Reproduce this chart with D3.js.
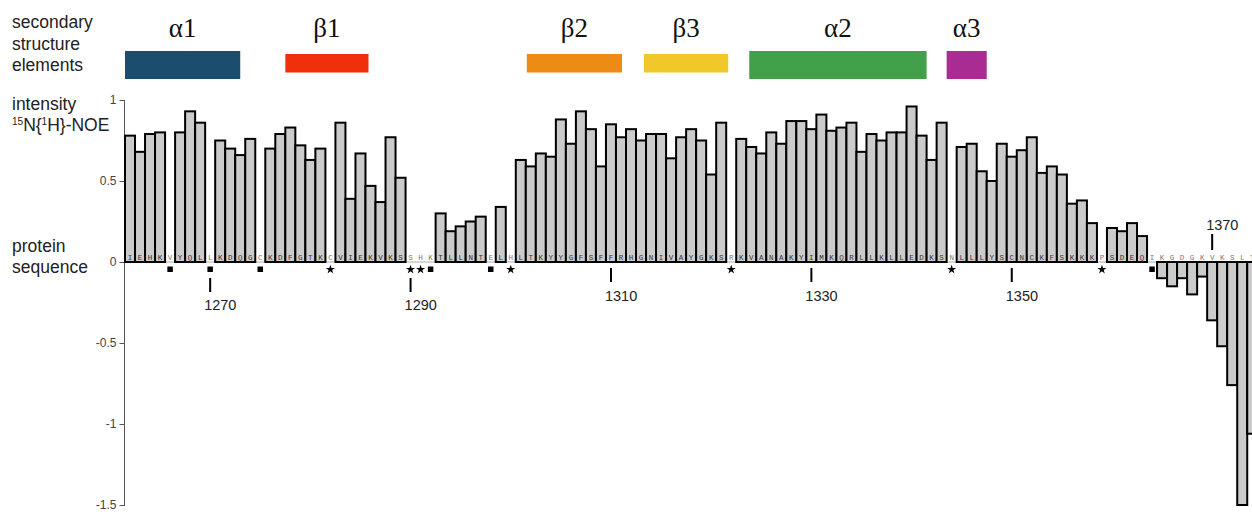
<!DOCTYPE html>
<html>
<head>
<meta charset="utf-8">
<script src="https://cdn.jsdelivr.net/npm/d3@7"></script>
<style>
  html, body { margin: 0; padding: 0; background: #fff; }
  svg { display: block; }
  .lbl { font-family: "Liberation Sans", Arial, sans-serif; font-size: 17.5px; fill: #222; }
</style>
</head>
<body>
<svg id="chart" width="1252" height="512"></svg>
<script>
// ---- data ----
const firstResidue = 1262;
const sequence = "IEHKVYQLLKDQGCKDFGTKCVIEKVKSSHKTLLNTELHLTKYYGFSFFRHGNIVAYGKSRKVANAKYIMKQRLLKLLEDKSNLLLYSCNCKFSKKKPSDEQIKGDGKVKSLT".split("");
// heteronuclear NOE per residue (null = not determined)
const noe = [
  0.78, 0.68, 0.79, 0.80, null, 0.80, 0.93, 0.86, null, 0.75,
  0.70, 0.66, 0.76, null, 0.70, 0.79, 0.83, 0.72, 0.63, 0.70,
  null, 0.86, 0.39, 0.67, 0.47, 0.37, 0.77, 0.52, null, null,
  null, 0.30, 0.19, 0.22, 0.25, 0.28, null, 0.34, null, 0.63,
  0.59, 0.67, 0.65, 0.88, 0.73, 0.93, 0.82, 0.59, 0.85, 0.77,
  0.82, 0.75, 0.79, 0.79, 0.64, 0.77, 0.82, 0.75, 0.54, 0.86,
  null, 0.76, 0.71, 0.67, 0.80, 0.73, 0.87, 0.87, 0.82, 0.91,
  0.81, 0.83, 0.86, 0.68, 0.79, 0.75, 0.80, 0.80, 0.96, 0.78,
  0.63, 0.86, null, 0.71, 0.73, 0.56, 0.50, 0.73, 0.65, 0.69,
  0.77, 0.55, 0.59, 0.54, 0.36, 0.38, 0.24, null, 0.21, 0.19,
  0.24, 0.16, null, -0.10, -0.15, -0.10, -0.20, -0.09, -0.36, -0.52,
  -0.76, -1.50, -1.06
];
const squareResidues = [1266, 1270, 1275, 1292, 1298, 1364];
const starResidues = [1282, 1290, 1291, 1300, 1322, 1344, 1359];
const numberedResidues = [1270, 1290, 1310, 1330, 1350, 1370];
const yTicks = [1, 0.5, 0, -0.5, -1, -1.5];

// secondary structure elements (residue ranges)
const elementNames = ["α1", "β1", "β2", "β3", "α2", "α3"];
const elementKinds = ["helix", "strand", "strand", "strand", "helix", "helix"];
const elementRanges = [[1262, 1273.5], [1278, 1286.3], [1302.1, 1311.6], [1313.8, 1322.2], [1324.3, 1342], [1344, 1348]];
const elementColors = ["#1b4d6f", "#f0300a", "#ee8b15", "#f1c829", "#43a04a", "#a92b94"];

// ---- layout ----
const svg = d3.select("#chart");
const residues = sequence.map((_, i) => firstResidue + i);
const rows = residues.map((r, i) => ({ res: r, aa: sequence[i], v: noe[i] }));
const slot = 10.02;
const x0 = 125, x1 = x0 + residues.length * slot;

const x = d3.scaleBand().domain(residues).range([x0, x1]).padding(0);
const xr = d3.scaleLinear().domain([firstResidue, firstResidue + residues.length]).range([x0, x1]);
const y = d3.scaleLinear().domain([-1.5, 1]).range([505, 100]);
const cx = r => x(r) + x.bandwidth() / 2;

// left side labels
const left = svg.append("g").attr("class", "lbl");
[["secondary", 27.5], ["structure", 49.5], ["elements", 71]].forEach(([t, yy]) =>
  left.append("text").attr("x", 12).attr("y", yy).text(t));
left.append("text").attr("x", 12).attr("y", 110).text("intensity");
const noeLbl = left.append("text").attr("x", 12).attr("y", 131);
noeLbl.append("tspan").attr("font-size", "10px").attr("dy", "-6").text("15");
noeLbl.append("tspan").attr("dy", "6").text("N{");
noeLbl.append("tspan").attr("font-size", "10px").attr("dy", "-6").text("1");
noeLbl.append("tspan").attr("dy", "6").text("H}-NOE");
left.append("text").attr("x", 12).attr("y", 252).text("protein");
left.append("text").attr("x", 12).attr("y", 273).text("sequence");

// secondary structure bar
const ss = svg.append("g");
elementNames.forEach((name, i) => {
  const [s, e] = elementRanges[i];
  const helix = elementKinds[i] === "helix";
  ss.append("rect")
    .attr("x", xr(s)).attr("width", xr(e) - xr(s))
    .attr("y", helix ? 51 : 54).attr("height", helix ? 28 : 18.5)
    .attr("fill", elementColors[i]);
  ss.append("text")
    .attr("x", (xr(s) + xr(e)) / 2).attr("y", 36.5)
    .attr("text-anchor", "middle")
    .attr("font-family", "'Liberation Serif', 'Times New Roman', serif")
    .attr("font-size", "27px").attr("fill", "#111")
    .text(name);
});

// y axis
const yAxis = svg.append("g").attr("transform", `translate(${x0 - 0.5},0)`)
  .call(d3.axisLeft(y).tickValues(yTicks).tickSize(5).tickPadding(3).tickFormat(d => String(d)));
yAxis.select(".domain").attr("stroke", "#555").attr("d", `M-0,${y(1)}V${y(-1.5) + 1}`);
yAxis.selectAll(".tick line").attr("stroke", "#555");
yAxis.selectAll(".tick text").attr("font-family", "'Liberation Sans', Arial, sans-serif")
  .attr("font-size", "12px").attr("fill", "#444");

// zero baseline
svg.append("line").attr("x1", x0).attr("x2", 1252).attr("y1", y(0)).attr("y2", y(0))
  .attr("stroke", "#aaa").attr("stroke-width", 1);

// bars
svg.append("g").selectAll("rect")
  .data(rows.filter(d => d.v !== null))
  .join("rect")
  .attr("x", d => x(d.res))
  .attr("width", x.bandwidth())
  .attr("y", d => y(Math.max(0, d.v)))
  .attr("height", d => Math.abs(y(d.v) - y(0)))
  .attr("fill", "#cbcbcb")
  .attr("stroke", "#000")
  .attr("stroke-width", 2);

// one-letter residue codes along the baseline
svg.append("g").selectAll("text")
  .data(rows)
  .join("text")
  .attr("x", d => cx(d.res))
  .attr("y", y(0) - 2)
  .attr("text-anchor", "middle")
  .attr("font-family", "'Liberation Mono', 'Courier New', monospace")
  .attr("font-size", "7.5px")
  .attr("fill", d => d.v !== null && d.v > 0 ? "#333" : "#777")
  .text(d => d.aa);

// markers for residues without data
svg.append("g").selectAll("rect")
  .data(squareResidues)
  .join("rect")
  .attr("x", d => cx(d) - 2.75).attr("y", 266.5)
  .attr("width", 5.5).attr("height", 5.5)
  .attr("fill", "#000");
svg.append("g").selectAll("path")
  .data(starResidues)
  .join("path")
  .attr("transform", d => `translate(${cx(d)},${269.5})`)
  .attr("d", d3.symbol(d3.symbolStar, 26))
  .attr("fill", "#000");

// residue numbering
const num = svg.append("g");
numberedResidues.forEach(r => {
  const i = r - firstResidue;
  const v = noe[i];
  const marked = squareResidues.includes(r) || starResidues.includes(r);
  let t0, t1, ty;
  if (v !== null && v < 0) { t0 = 234; t1 = 250; ty = 230; }
  else if (marked) { t0 = 278; t1 = 292; ty = 309.5; }
  else { t0 = 268; t1 = 282; ty = 300.5; }
  num.append("line").attr("x1", cx(r)).attr("x2", cx(r)).attr("y1", t0).attr("y2", t1)
    .attr("stroke", "#000").attr("stroke-width", 2);
  num.append("text").attr("x", cx(r) - 6).attr("y", ty)
    .attr("font-family", "'Liberation Sans', Arial, sans-serif")
    .attr("font-size", "14.5px").attr("fill", "#222")
    .text(r);
});
</script>
</body>
</html>
